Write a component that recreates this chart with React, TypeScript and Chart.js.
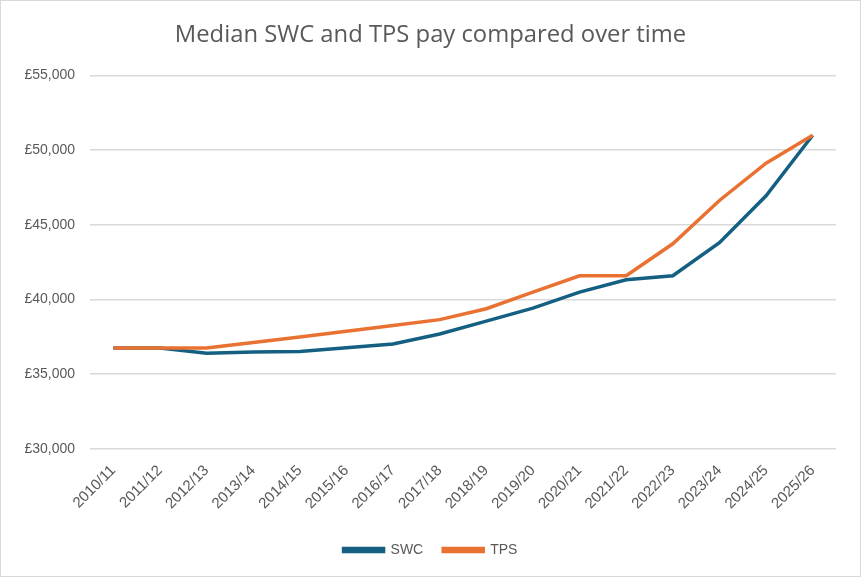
import React, { useEffect, useRef } from "react";
import { Chart, registerables } from "chart.js";

Chart.register(...registerables);

const categories = [
  "2010/11", "2011/12", "2012/13", "2013/14", "2014/15", "2015/16", "2016/17", "2017/18",
  "2018/19", "2019/20", "2020/21", "2021/22", "2022/23", "2023/24", "2024/25", "2025/26",
];
const swcValues = [
  36750, 36750, 36400, 36480, 36520, 36770, 37020, 37690,
  38550, 39420, 40490, 41320, 41590, 43800, 46950, 51000,
];
const tpsValues = [
  36750, 36750, 36750, 37120, 37490, 37870, 38250, 38650,
  39380, 40490, 41590, 41590, 43730, 46630, 49130, 51000,
];
const yTicks = [30000, 35000, 40000, 45000, 50000, 55000];

const SWC_COLOR = "#156082";
const TPS_COLOR = "#E97132";
const TEXT = "#595959";
const FONT = "'Liberation Sans', Arial, sans-serif";

export default function App() {
  const ref = useRef<HTMLCanvasElement | null>(null);

  useEffect(() => {
    document.body.style.margin = "0";
    if (!ref.current) return;
    const chart = new Chart(ref.current, {
      type: "line",
      data: {
        labels: categories,
        datasets: [
          {
            label: "SWC",
            data: swcValues,
            borderColor: SWC_COLOR,
            backgroundColor: SWC_COLOR,
            borderWidth: 3.5,
            pointRadius: 0,
            tension: 0,
            order: 1,
          },
          {
            label: "TPS",
            data: tpsValues,
            borderColor: TPS_COLOR,
            backgroundColor: TPS_COLOR,
            borderWidth: 3.5,
            pointRadius: 0,
            tension: 0,
            order: 0,
          },
        ],
      },
      options: {
        animation: false,
        responsive: false,
        maintainAspectRatio: false,
        layout: { padding: { left: 24, right: 24, top: 4, bottom: 9 } },
        plugins: {
          title: {
            display: true,
            text: "Median SWC and TPS pay compared over time",
            color: TEXT,
            font: { family: "'Open Sans', 'Liberation Sans', sans-serif", size: 23.8, weight: "normal" },
            padding: { top: 16, bottom: 26 },
          },
          legend: {
            position: "bottom",
            title: {
              display: true,
              text: "",
              font: { size: 1 },
              padding: { top: 0, bottom: 4 },
            },
            labels: {
              color: TEXT,
              font: { family: FONT, size: 14 },
              boxWidth: 40,
              boxHeight: 3,
              padding: 20,
              sort: (a: any, b: any) => a.datasetIndex - b.datasetIndex,
            },
          },
          tooltip: { enabled: false },
        },
        scales: {
          x: {
            offset: true,
            grid: { display: false },
            border: { display: false },
            ticks: {
              color: TEXT,
              font: { family: FONT, size: 15 },
              minRotation: 45,
              maxRotation: 45,
              autoSkip: false,
              padding: 5,
            },
          },
          y: {
            min: yTicks[0],
            max: yTicks[yTicks.length - 1],
            afterBuildTicks: (axis: any) => {
              axis.ticks = yTicks.map((v) => ({ value: v }));
            },
            afterFit: (axis: any) => {
              axis.width = 65;
            },
            grid: { color: "#d9d9d9", lineWidth: 1.5, drawTicks: false },
            border: { display: false },
            ticks: {
              color: TEXT,
              font: { family: FONT, size: 14 },
              padding: 15,
              callback: (v: any) => "£" + Number(v).toLocaleString("en-GB"),
            },
          },
        },
      },
    });
    return () => chart.destroy();
  }, []);

  return (
    <div
      style={{
        width: 861,
        height: 577,
        border: "1px solid #d9d9d9",
        boxSizing: "border-box",
        background: "#fff",
        position: "relative",
      }}
    >
      <canvas ref={ref} width={859} height={575} style={{ display: "block" }} />
    </div>
  );
}
